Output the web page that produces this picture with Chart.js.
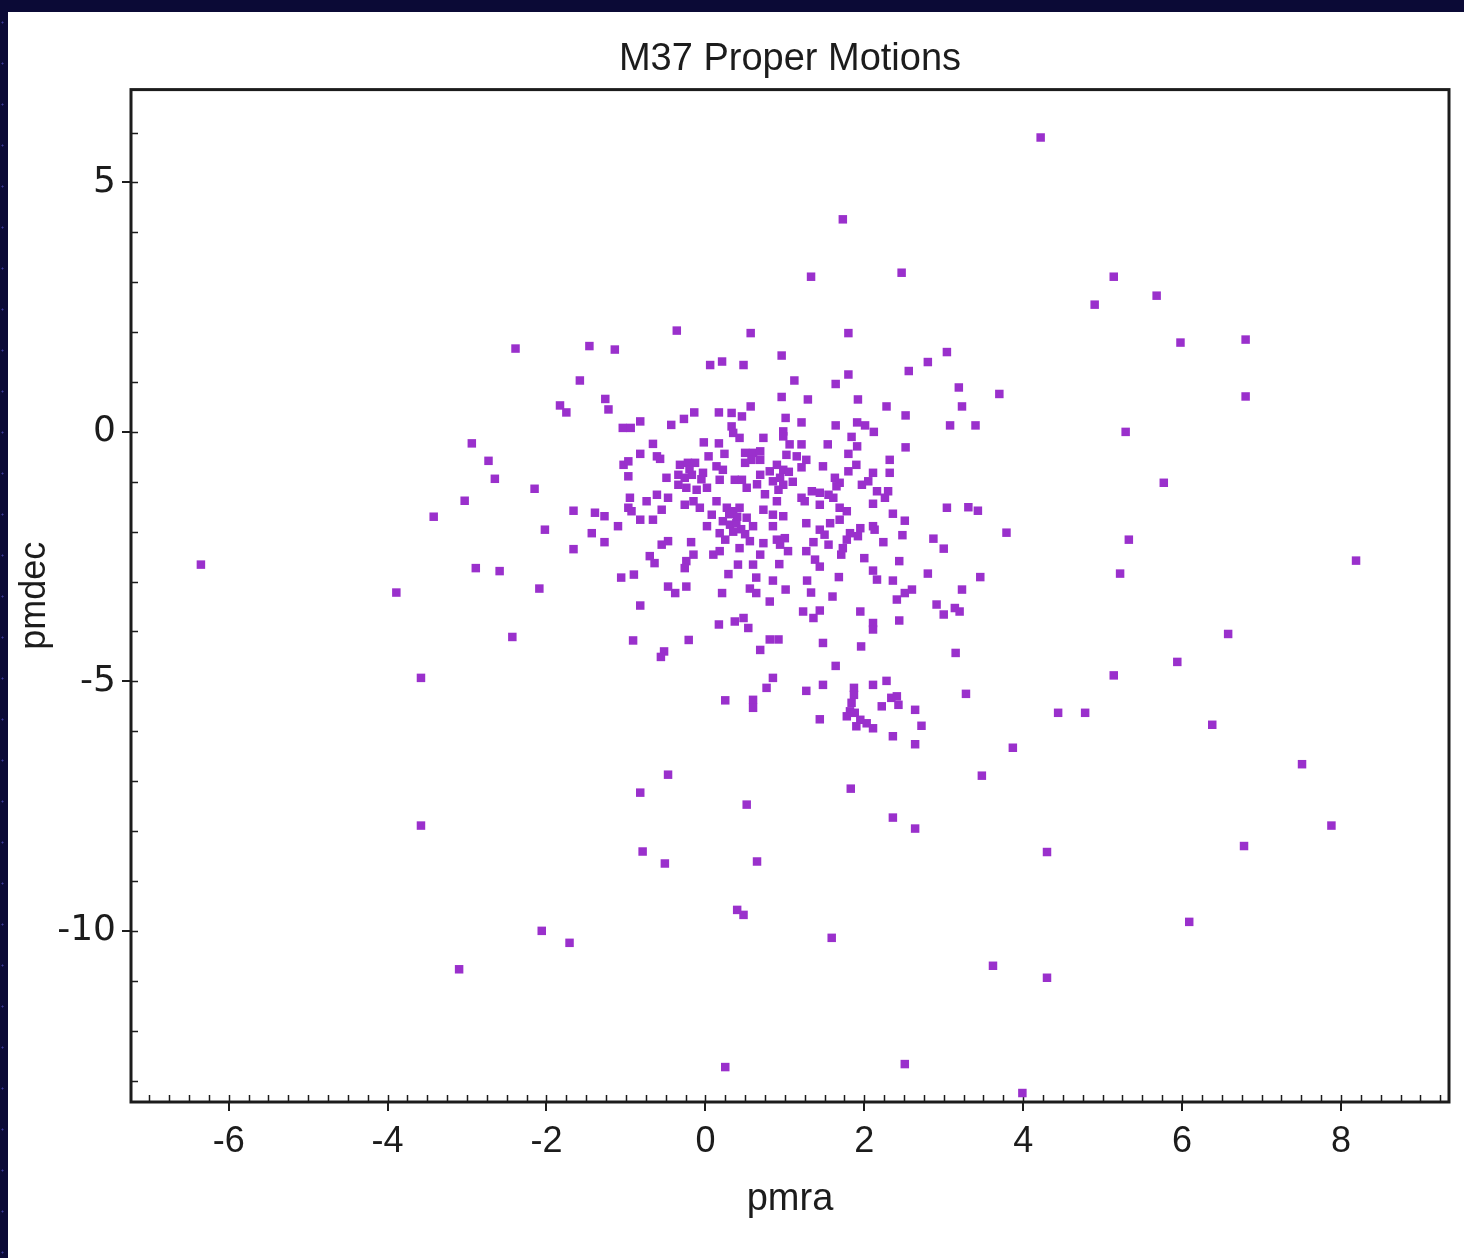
<!DOCTYPE html>
<html>
<head>
<meta charset="utf-8">
<title>M37 Proper Motions</title>
<script src="https://cdn.jsdelivr.net/npm/chart.js@4.4.1/dist/chart.umd.min.js"></script>
<style>
  html, body { margin: 0; padding: 0; }
  body {
    width: 1464px; height: 1258px; overflow: hidden;
    background-color: #0b0a36;
    background-image:
      radial-gradient(circle, rgba(150,150,255,0.7) 0.8px, transparent 1.4px),
      radial-gradient(circle, rgba(90,90,220,0.6) 0.7px, transparent 1.3px);
    background-size: 37px 29px, 23px 41px;
    background-position: 3px 5px, 14px 2px;
  }
  #wrap { position: absolute; left: 8px; top: 12px; width: 1456px; height: 1246px; background: #fff; }
</style>
</head>
<body>
<div id="wrap"><canvas id="pmChart" width="1456" height="1246"></canvas></div>
<script>
// proper motions (mas/yr)
const pmra = [
  4.22, 1.73, 1.33, 2.47, 5.14, 4.90, 5.68, 5.98, 6.80, 6.80, 5.29, 5.77, 5.33, 5.22, 8.19, 6.58,
  5.94, 5.14, 6.38, 4.44, 4.78, 7.51, 7.88, 6.78, 4.30, 6.09, 3.62, 4.30, 3.99, 2.51, 0.25, 1.59,
  -2.06, -1.71, -3.10, -3.58, -3.58, -3.89, -6.35, -3.42, -3.03, -2.89, -2.59, -2.43, -2.09, -2.15,
  -2.02, -2.94, -2.73, -2.65, -2.39, -1.83, -1.75, -1.58, -1.46, -1.14, -1.26, -1.22, -0.36, 0.57,
  0.06, 0.21, 0.48, -1.04, -0.94, -0.82, -0.43, -0.27, -0.14, 0.17, 0.33, 0.46, 0.57, 0.33, 0.35,
  0.43, 0.73, -0.66, -0.82, -0.61, -0.57, -0.02, 0.17, 0.24, 0.04, 0.50, 0.60, 0.69, 0.58, 0.69,
  -1.03, -0.97, -0.32, -0.22, -0.13, 0.14, 0.50,
  0.96, 0.96, 1.80, 3.04, 2.80, 2.56, 1.80, 1.12, 1.64, 1.29, 1.92, 2.28, 3.19, 3.23, 2.52, 3.08,
  3.40, 3.70, 1.01, 1.21, 1.64, 1.91, 2.01, 2.12, 0.98, 0.98, 1.06, 1.21, 1.54, 1.84, 1.91, 1.80,
  2.52, 2.32, 1.02, 1.15, 1.27, 0.90, 1.48, 1.90,
  -0.97, -0.49, -0.34, -0.26, -0.34, -0.17, -0.03, 0.22, 0.18, 0.37, 0.46, 0.52, 0.69, 0.81, 0.85,
  -0.24, -0.11, 0.02, -0.95, -0.74, -0.61, -0.47, -0.97, -0.93, -1.66, -1.39, -1.27, -0.82, -0.66,
  -0.55, -1.10, -0.26, -0.15, -0.07, 0.14, 0.08, 0.02, 0.27, 0.35, 0.43, 0.22, 0.31, 0.39, 0.52,
  0.60, 0.73, 0.85, 0.85, -1.43, -1.27, -1.66, -0.55, -0.47, -0.18, 0.18, 0.25, 0.10, 0.18, 0.43,
  0.56, 0.73, 0.90, -0.70, -0.64, -0.15, -0.24, -0.26, 0.41, 0.60, 0.69, 0.29, 0.64, 0.85, -1.06,
  -0.90, -0.47, -0.38, -0.24, 0.21, 0.56, 0.64, 0.81, -0.82, 0.17, 0.37, 0.48, 0.54,
  0.98, 0.94, 0.98, 0.92, 1.21, 1.80, 2.11, 2.32, 1.63, 1.69, 1.65, 1.97, 2.05, 2.16, 2.30, 2.26,
  1.34, 1.44, 1.55, 1.61, 1.21, 1.25, 0.90, 1.44, 1.69, 1.78, 2.11, 2.36, 2.51, 3.04, 3.31, 3.43,
  0.98, 1.27, 1.57, 1.69, 1.44, 1.50, 1.95, 1.82, 1.92, 2.11, 2.13, 2.48, 2.87, 3.00, 1.00, 0.94,
  1.04, 1.36, 1.27, 1.55, 1.78, 1.73, 1.71, 2.24, 1.38, 1.44, 0.93, 2.00, 2.44, 2.11, 2.16, 1.68,
  1.28, 2.36, 2.80, 3.46, 1.01, 1.33, 1.60, 2.41, 2.51, 2.60, 3.23, 1.23, 1.36, 1.44, 1.95, 2.11,
  2.11, 2.44, 2.91, 3.00, 3.14, 3.20,
  3.15, 3.28, 0.81, 0.92, 0.69, 1.48, 1.96, 1.64, 0.85, 0.77, 0.25, 0.60, 0.60, 1.27, 1.48, 1.44,
  2.11, 2.28, 1.87, 1.87, 1.84, 1.82, 1.78, 1.88, 1.95, 2.03, 2.11, 1.90, 2.22, 2.34, 2.43, 2.41,
  2.64, 2.72, 2.36, 2.64, 3.48, 3.87,
  -0.91, -0.52, -0.56, -0.21, -0.47, -0.82, -0.79, -0.51, 0.52, 0.65, 0.40, 0.48, 1.83, 2.36, 2.64,
  3.79,
  0.40, 0.30, 0.45, 0.50, 0.35, -0.05, -0.20, 1.05, 1.10, 0.75, 0.65
];
const pmdec = [
  5.90, 4.26, 3.11, 3.19, 3.11, 2.55, 2.73, 1.79, 1.85, 0.71, 0.00, -1.02, -2.16, -2.84, -2.58, -4.05,
  -4.61, -4.88, -5.87, -5.63, -5.63, -6.66, -7.89, -8.30, -8.42, -9.82, -10.70, -10.94, -13.25, -12.67, -12.73, -10.14,
  -10.00, -10.24, -10.77, -7.89, -4.93, -3.22, -2.66, -1.70, -1.38, -2.73, -2.79, -4.11, -3.14, -1.14,
  -1.96, -0.23, -0.58, -0.94, 1.67, 0.53, 0.39, 1.03, 1.72, 1.65, 0.66, 0.45, 2.03, 1.98,
  1.34, 1.41, 1.34, 0.08, 0.08, 0.21, 0.14, 0.26, 0.39, 0.39, 0.38, 0.31, 0.51, 0.11, -0.02,
  -0.12, -0.12, -0.24, -0.44, -0.49, -0.54, -0.21, -0.23, -0.44, -0.49, -0.42, -0.42, -0.39, -0.56, -0.56,
  -0.66, -0.59, -0.66, -0.62, -0.62, -0.69, -0.62,
  1.53, 0.70, 1.98, 1.60, 1.40, 1.22, 1.15, 1.03, 0.96, 0.65, 0.65, 0.51, 0.89, 0.51, 0.33, 0.13,
  0.13, 0.76, 0.28, 0.19, 0.13, 0.19, 0.13, 0.00, 0.01, -0.09, -0.25, -0.25, -0.25, -0.10, -0.29, -0.44,
  -0.31, -0.56, -0.46, -0.49, -0.56, -0.66, -0.69, -0.66,
  -0.89, -0.92, -0.86, -0.92, -1.06, -0.86, -0.82, -0.76, -0.96, -0.96, -0.96, -1.12, -0.86, -0.79, -0.99,
  -1.12, -1.16, -1.12, -1.32, -1.39, -1.26, -1.32, -1.52, -1.59, -1.58, -1.62, -1.69, -1.76, -1.76,
  -1.56, -1.89, -1.46, -1.39, -1.52, -1.39, -1.66, -1.89, -1.52, -1.59, -1.52, -1.79, -1.86, -1.83, -1.72,
  -1.89, -1.56, -1.66, -1.89, -2.03, -2.21, -2.35, -2.26, -2.19, -2.21, -2.03, -2.16, -2.46, -2.39, -2.33,
  -2.19, -2.23, -2.16, -2.49, -2.63, -2.46, -2.59, -2.73, -2.66, -2.66, -2.46, -2.85, -2.92, -2.98, -2.92,
  -2.86, -3.10, -3.23, -3.10, -3.23, -3.14, -3.23, -3.40, -3.48, -3.86, -3.80, -3.73, -3.93,
  -0.76, -0.92, -1.06, -1.16, -0.71, -0.79, -0.82, -0.82, -0.92, -1.02, -1.09, -1.06, -0.99, -1.19, -1.19, -1.32,
  -1.19, -1.22, -1.26, -1.32, -1.32, -1.39, -1.39, -1.46, -1.52, -1.59, -1.44, -1.64, -1.78, -1.52, -1.51, -1.58,
  -1.69, -1.83, -1.83, -1.76, -1.96, -2.06, -1.93, -2.03, -2.09, -1.89, -1.96, -2.07, -2.14, -2.34, -2.13, -2.26,
  -2.39, -2.21, -2.39, -2.26, -2.16, -2.33, -2.46, -2.21, -2.56, -2.70, -2.65, -2.53, -2.59, -2.78, -2.96, -2.91,
  -2.98, -2.98, -2.84, -2.91, -3.16, -3.22, -3.30, -3.36, -3.23, -3.16, -3.16, -3.60, -3.73, -3.58, -3.60, -3.83,
  -3.96, -3.78, -3.46, -3.66, -3.53, -3.60,
  -4.43, -5.25, -4.16, -4.16, -4.37, -4.23, -4.30, -4.69, -4.93, -5.13, -5.38, -5.37, -5.53, -5.19, -5.07, -5.76,
  -5.07, -4.99, -5.13, -5.27, -5.43, -5.60, -5.70, -5.63, -5.77, -5.84, -5.94, -5.90, -5.50, -5.33, -5.47, -5.30,
  -5.57, -5.89, -6.10, -6.26, -6.89, -6.33,
  -4.18, -4.40, -4.51, -4.17, -6.87, -7.23, -8.41, -8.65, -7.47, -8.61, -9.58, -9.68, -7.15, -7.73, -7.95,
  -2.02,
  -1.70, -1.65, -1.95, -2.05, -2.00, -0.95, -0.75, -0.80, -1.00, -1.25, -1.05
];

const xTickValues = [-6, -4, -2, 0, 2, 4, 6, 8];
const yTickValues = [-10, -5, 0, 5];
const xRange = [-7.23, 9.36];
const yRange = [-13.43, 6.86];

const FONT = "'Liberation Sans', Arial, Helvetica, sans-serif";
const WIDE_FONT = "'DejaVu Sans', Verdana, sans-serif";
const INK = '#1c1c1c';

const points = pmra.map((x, i) => ({ x, y: pmdec[i] }));

// plot frame and the small inward minor ticks
const framePlugin = {
  id: 'frame',
  beforeDatasetsDraw(chart) {
    const { ctx, chartArea: a, scales: { x, y } } = chart;
    ctx.save();
    ctx.strokeStyle = INK;
    ctx.lineWidth = 1.5;
    ctx.beginPath();
    for (let v = -7; v <= 9.25; v += 0.25) {
      const px = Math.round(x.getPixelForValue(v)) + 0.5;
      ctx.moveTo(px, a.bottom);
      ctx.lineTo(px, a.bottom - 7);
    }
    for (let v = -13; v <= 6; v += 1) {
      const py = Math.round(y.getPixelForValue(v)) + 0.5;
      ctx.moveTo(a.left, py);
      ctx.lineTo(a.left + 7, py);
    }
    ctx.stroke();
    ctx.lineWidth = 3;
    ctx.strokeRect(a.left, a.top, a.right - a.left, a.bottom - a.top);
    ctx.restore();
  }
};

new Chart(document.getElementById('pmChart'), {
  type: 'scatter',
  data: {
    datasets: [{
      label: 'M37',
      data: points,
      pointStyle: 'rect',
      pointRadius: 6,
      backgroundColor: '#9a30cc',
      borderWidth: 0,
      pointBorderWidth: 0,
      clip: false,
    }],
  },
  options: {
    responsive: false,
    animation: false,
    layout: { padding: { left: 0, right: 15, top: 0, bottom: 0 } },
    plugins: {
      legend: { display: false },
      tooltip: { enabled: false },
      title: {
        display: true,
        text: 'M37 Proper Motions',
        fullSize: false,
        color: INK,
        font: { family: FONT, size: 38, weight: 'normal' },
        padding: { top: 25, bottom: 7 },
      },
    },
    scales: {
      x: {
        type: 'linear',
        min: xRange[0],
        max: xRange[1],
        afterBuildTicks: (s) => { s.ticks = xTickValues.map(value => ({ value })); },
        afterFit: (s) => { s.height = 156; },
        grid: { drawOnChartArea: false, drawTicks: true, tickLength: 9, color: INK, lineWidth: 2 },
        border: { display: false },
        ticks: { color: INK, font: { family: FONT, size: 36 }, padding: 9, maxRotation: 0, autoSkip: false },
        title: { display: true, text: 'pmra', color: INK, font: { family: FONT, size: 38 }, padding: { top: 0, bottom: 36 } },
      },
      y: {
        type: 'linear',
        min: yRange[0],
        max: yRange[1],
        afterBuildTicks: (s) => { s.ticks = yTickValues.map(value => ({ value })); },
        afterFit: (s) => { s.width = 123; },
        grid: { drawOnChartArea: false, drawTicks: true, tickLength: 9, color: INK, lineWidth: 2 },
        border: { display: false },
        ticks: { color: INK, font: { family: WIDE_FONT, size: 36 }, padding: 6, autoSkip: false },
        title: { display: true, text: 'pmdec', color: INK, font: { family: FONT, size: 36 }, padding: { top: 5, bottom: 0 } },
      },
    },
  },
  plugins: [framePlugin],
});
</script>
</body>
</html>
